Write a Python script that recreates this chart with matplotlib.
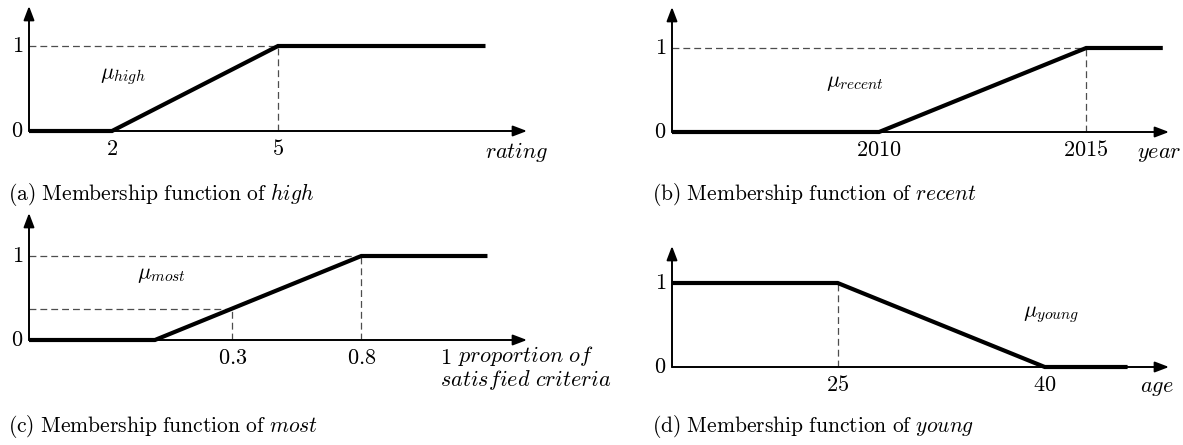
import numpy as np
import matplotlib
matplotlib.use("Agg")
import matplotlib.pyplot as plt

plt.rcParams["mathtext.fontset"] = "cm"
plt.rcParams["font.family"] = "DejaVu Serif"

# ---- membership functions (x breakpoints, membership degree) ----
RATING_X = [0.5, 2, 5, 8.75]
HIGH_MU = [0, 0, 1, 1]
RATING_TICKS = [2, 5]

YEAR_X = [2005, 2010, 2015, 2016.85]
RECENT_MU = [0, 0, 1, 1]
YEAR_TICKS = [2010, 2015]

PROP_X = [-0.488, 0.0, 0.8, 1.1]
MOST_MU = [0, 0, 1, 1]
PROP_TICKS = [0.3, 0.8, 1]
PROP_PROBE = 0.3

AGE_X = [13, 25, 40, 46]
YOUNG_MU = [1, 1, 0, 0]
AGE_TICKS = [25, 40]

W, H = 1183, 445
fig = plt.figure(figsize=(W / 100, H / 100), dpi=100)

FS = 16
CAP_FS = 15.5
PT = 0.72  # points per pixel at 100 dpi
DASH = dict(ls=(0, (5.5, 3.2)), color="#4d4d4d", lw=0.9, zorder=1)


def add_panel(ox, oy, tip_x, one_y, top_y, xlim, scale=None):
    ax = fig.add_axes([ox / W, 1 - oy / H, (tip_x - ox) / W, (oy - top_y) / H])
    if scale is not None:
        ax.set_xscale("function", functions=scale)
    ax.set_xlim(*xlim)
    ax.set_ylim(0, (oy - top_y) / (oy - one_y))
    ax.axis("off")
    style = dict(arrowstyle="-|>,head_length=0.42,head_width=0.16",
                 mutation_scale=20, lw=1.4, color="k", shrinkA=0, shrinkB=0)
    x0, x1 = ax.get_xlim()
    y0, y1 = ax.get_ylim()
    ax.annotate("", xy=(x1, 0), xytext=(x0, 0), arrowprops=style,
                annotation_clip=False)
    ax.annotate("", xy=(x0, y1), xytext=(x0, 0), arrowprops=style,
                annotation_clip=False)
    for v in (0, 1):
        ax.annotate(f"${v}$", xy=(x0, v), xytext=(-6 * PT, 0),
                    textcoords="offset points", ha="right", va="center",
                    fontsize=FS)
    return ax


def curve(ax, x, mu):
    ax.plot(x, mu, color="k", lw=3.0, solid_joinstyle="miter",
            solid_capstyle="butt", clip_on=False, zorder=3)


def xticks(ax, ticks, dy=7):
    for t in ticks:
        lab = f"{t:g}"
        ax.annotate(f"${lab}$", xy=(t, 0), xytext=(0, -dy * PT),
                    textcoords="offset points", ha="center", va="top",
                    fontsize=FS)


def guide(ax, xv, yv, horizontal=True, vertical=True):
    x0 = ax.get_xlim()[0]
    if horizontal:
        ax.plot([x0, xv], [yv, yv], **DASH)
    if vertical:
        ax.plot([xv, xv], [0, yv], **DASH)


def ftext(px, py, s, **kw):
    kw.setdefault("fontsize", FS)
    kw.setdefault("va", "center")
    fig.text(px / W, 1 - py / H, s, **kw)


# (a) high
ax = add_panel(29, 131, 527, 46, 6, (RATING_X[0], 9.5))
curve(ax, RATING_X, HIGH_MU)
xticks(ax, RATING_TICKS)
guide(ax, RATING_X[2], 1)
ftext(485, 152, r"$rating$")
ftext(100, 76, r"$\mu_{high}$")
ftext(8, 194, r"$\mathrm{(a)\ Membership\ function\ of\ }\mathit{high}$",
      fontsize=CAP_FS)

# (b) recent
ax = add_panel(672, 132, 1169, 48, 7, (YEAR_X[0], 2017))
curve(ax, YEAR_X, RECENT_MU)
xticks(ax, YEAR_TICKS)
guide(ax, YEAR_X[2], 1)
ftext(1137, 153, r"$year$")
ftext(826, 82, r"$\mu_{recent}$")
ftext(652, 194, r"$\mathrm{(b)\ Membership\ function\ of\ }\mathit{recent}$",
      fontsize=CAP_FS)

# (c) most -- axis stretched beyond 0.8 so the end of the range stays readable
STRETCH = 1.63


def _fwd(x):
    x = np.asarray(x, dtype=float)
    return np.where(x <= 0.8, x, 0.8 + (x - 0.8) * STRETCH)


def _inv(y):
    y = np.asarray(y, dtype=float)
    return np.where(y <= 0.8, y, 0.8 + (y - 0.8) / STRETCH)


ax = add_panel(29, 340, 527, 256, 213, (PROP_X[0], 1.194), scale=(_fwd, _inv))
curve(ax, PROP_X, MOST_MU)
xticks(ax, PROP_TICKS)
guide(ax, PROP_X[2], 1)
guide(ax, PROP_PROBE, float(np.interp(PROP_PROBE, PROP_X, MOST_MU)))
ftext(526, 362, r"$proportion\ of$", ha="center", va="baseline")
ftext(526, 386, r"$satisfied\ criteria$", ha="center", va="baseline")
ftext(137, 274, r"$\mu_{most}$")
ftext(8, 427, r"$\mathrm{(c)\ Membership\ function\ of\ }\mathit{most}$",
      fontsize=CAP_FS)

# (d) young
ax = add_panel(672, 367, 1169, 283, 246, (AGE_X[0], 49))
curve(ax, AGE_X, YOUNG_MU)
xticks(ax, AGE_TICKS)
guide(ax, AGE_X[1], 1, horizontal=False)
ftext(1140, 387, r"$age$")
ftext(1023, 314, r"$\mu_{young}$")
ftext(652, 427, r"$\mathrm{(d)\ Membership\ function\ of\ }\mathit{young}$",
      fontsize=CAP_FS)

fig.savefig("out.png", dpi=100)
